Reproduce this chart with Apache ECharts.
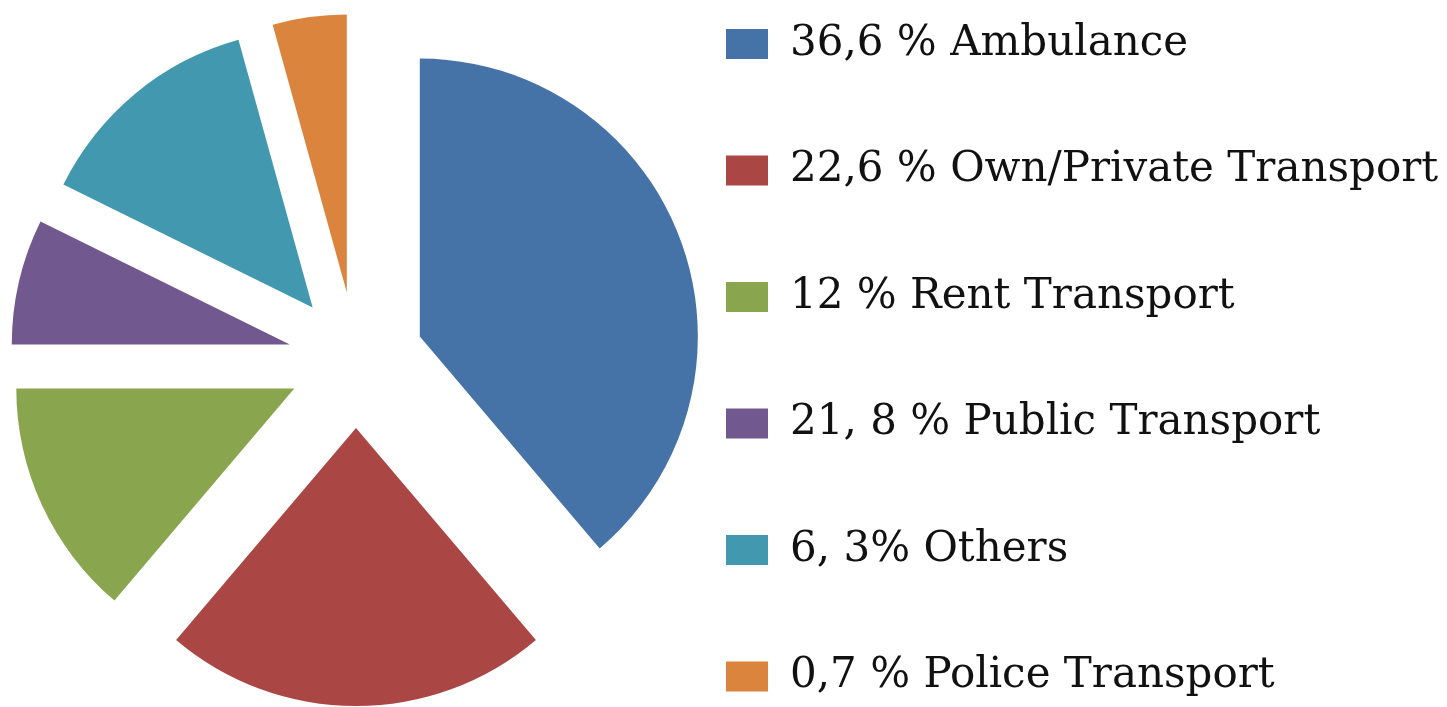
<!DOCTYPE html>
<html>
<head>
<meta charset="utf-8">
<script src="https://cdn.jsdelivr.net/npm/echarts@6/dist/echarts.min.js"></script>
<style>
  html, body { margin: 0; padding: 0; background: #fff; }
  #chart { width: 1447px; height: 707px; }
</style>
</head>
<body>
<div id="chart"></div>
<script>
// legend texts as printed on the slide
const labels = [
  "36,6 % Ambulance",
  "22,6 % Own/Private Transport",
  "12 % Rent Transport",
  "21, 8 % Public Transport",
  "6, 3% Others",
  "0,7 % Police Transport"
];
const sliceValues = [38.8, 22.4, 13.8, 7.3, 13.4, 4.3];
const colors = ["#4572A7", "#AA4643", "#89A54E", "#71588F", "#4198AF", "#DB843D"];

const chart = echarts.init(document.getElementById("chart"));

chart.setOption({
  animation: false,
  color: colors,
  legend: {
    orient: "vertical",
    left: 721,
    top: 18,
    icon: "rect",
    itemWidth: 42,
    itemHeight: 30,
    itemGap: 84.5,
    selectedMode: false,
    textStyle: {
      fontFamily: "DejaVu Serif",
      fontSize: 42,
      color: "#111",
      padding: [0, 0, 0, 17]
    },
    data: labels
  },
  series: [
    {
      name: "Transport",
      type: "pie",
      center: [356, 360],
      radius: 278,
      startAngle: 90,
      clockwise: true,
      selectedMode: "multiple",
      selectedOffset: 68,
      label: { show: false },
      labelLine: { show: false },
      emphasis: { disabled: true },
      data: labels.map((name, i) => ({
        name: name,
        value: sliceValues[i],
        selected: true,
        itemStyle: { color: colors[i] },
        select: { itemStyle: { color: colors[i] } }
      }))
    }
  ]
});
</script>
</body>
</html>
